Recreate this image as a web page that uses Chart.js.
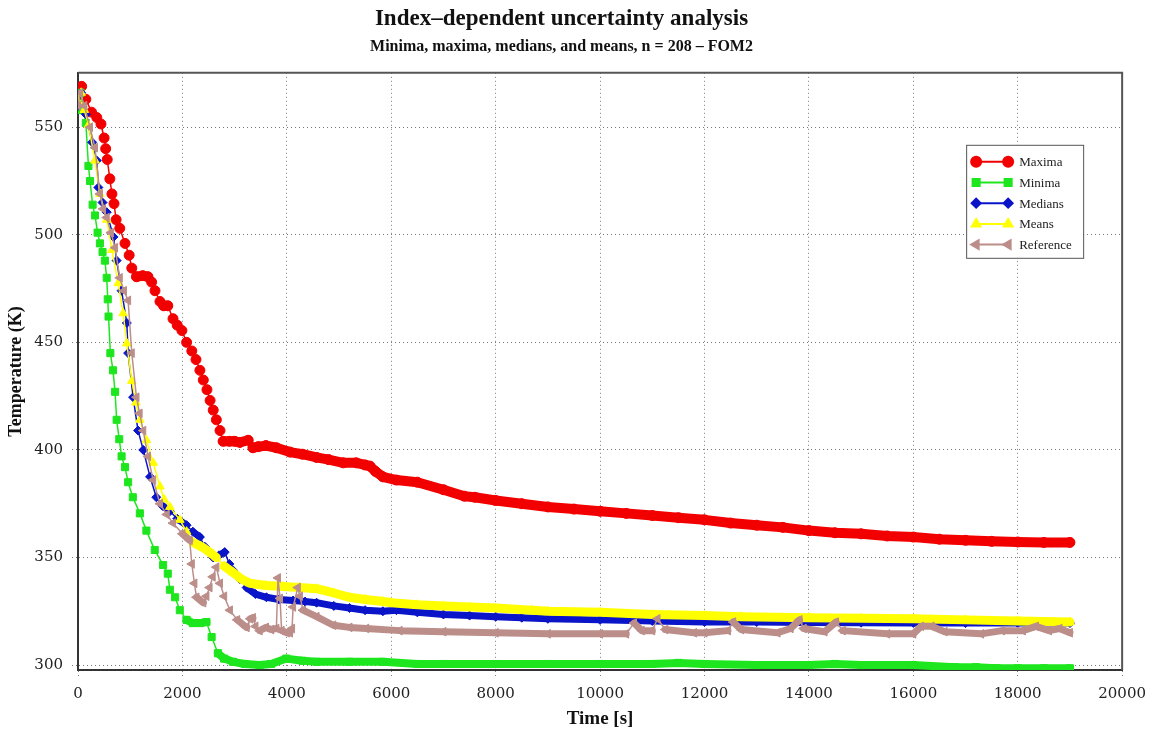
<!DOCTYPE html>
<html>
<head>
<meta charset="utf-8">
<title>Index-dependent uncertainty analysis</title>
<script src="https://cdn.jsdelivr.net/npm/chart.js@4.4.1/dist/chart.umd.min.js"></script>
<style>
  html, body { margin: 0; padding: 0; background: #fff; }
  #chart { display: block; }
</style>
</head>
<body>
<canvas id="chart" width="1155" height="735"></canvas>
<script>
// series names and axis ticks
const seriesNames = ['Maxima', 'Minima', 'Medians', 'Means', 'Reference'];
const xTicks = [0, 2000, 4000, 6000, 8000, 10000, 12000, 14000, 16000, 18000, 20000];
const yTicks = [300, 350, 400, 450, 500, 550];

// Maxima
const maxTime = [0, 70, 150, 260, 360, 440, 500, 530, 560, 610, 650, 690, 730, 800, 900, 980, 1030, 1120, 1240, 1340,
  1410, 1475, 1570, 1640, 1720, 1820, 1900, 1990, 2080, 2180, 2260, 2335, 2400, 2470, 2530, 2590, 2650, 2720, 2780, 2900,
  3000, 3100, 3260, 3350, 3450, 3600, 3800, 4060, 4300, 4570, 4800, 5080, 5330, 5500, 5590, 5700, 5840, 6100, 6500, 7000,
  7400, 7600, 8000, 8500, 9000, 9500, 10000, 10500, 11000, 11500, 12000, 12500, 13000, 13500, 14000, 14500, 15000, 15500,
  16000, 16500, 17000, 17500, 18000, 18500, 19000];
const maxTemp = [562, 569, 563, 557, 554.5, 551.5, 545, 540, 535, 526, 519, 514.5, 507, 503, 496, 490.5, 484.5, 480.5, 481, 480.5,
  478, 474, 469, 467, 467, 461, 458, 455.5, 450, 446, 442, 437, 432.5, 428, 423, 418.5, 414, 409, 404, 404,
  404, 403.5, 404.5, 401, 401.5, 402, 401, 399, 398, 396.5, 395.5, 394, 394, 393, 392.5, 390, 387.5, 386, 385, 381.5,
  378.5, 378, 376.5, 375, 373.5, 372.5, 371.5, 370.5, 369.5, 368.5, 367.5, 366, 365, 364, 362.5, 361.5, 361, 360,
  359.5, 358.5, 358, 357.5, 357.2, 357, 357];

// Minima
const minTime = [0, 50, 100, 150, 200, 230, 280, 325, 375, 420, 470, 515, 550, 570, 585, 620, 670, 710, 740, 790,
  835, 900, 960, 1050, 1185, 1310, 1470, 1630, 1720, 1760, 1860, 1950, 2080, 2200, 2340, 2460, 2560, 2680, 2800, 2970,
  3200, 3480, 3700, 3990, 4300, 4570, 5200, 5840, 6500, 7000, 8000, 9000, 10000, 11000, 11500, 12000, 13000, 14000, 14500, 15000,
  16000, 16800, 17200, 17600, 18000, 18500, 19000];
const minTemp = [558, 566, 558, 552, 532, 525, 514, 509, 501, 496, 492, 488, 480, 470, 462, 445, 437, 427, 414, 405,
  397, 392, 385, 378, 370.5, 362.5, 353.5, 346.5, 342.5, 335, 331.5, 325.5, 321, 319.5, 319.5, 320, 313, 305.5, 303, 301.5,
  300.5, 300, 300.5, 303, 302, 301.5, 301.5, 301.5, 300.5, 300.5, 300.5, 300.5, 300.5, 300.5, 301, 300.5, 300, 300, 300.5, 300,
  300, 299, 299, 298.5, 298.5, 298.5, 298.5];

// Medians
const medTime = [0, 60, 150, 270, 360, 390, 470, 550, 680, 740, 835, 935, 960, 1055, 1150, 1250, 1380, 1500, 1620, 1760,
  1900, 2080, 2200, 2335, 2430, 2590, 2700, 2810, 2900, 2970, 3100, 3230, 3400, 3610, 3850, 4120, 4350, 4570, 4900, 5200,
  5500, 5840, 6100, 6500, 7000, 7500, 8000, 8500, 9000, 10000, 11000, 12000, 13000, 14000, 15000, 16000, 17000, 18000, 19000];
const medTemp = [560, 566, 556, 543, 534.5, 522, 515, 510.5, 499, 488, 474, 459, 445, 424.5, 409, 400, 387.5, 378, 374, 371.5,
  368, 365, 362, 359.5, 355, 350, 351, 352.5, 347, 344, 340, 336, 333, 331.5, 330.5, 330, 329.5, 329, 327.5, 326.5,
  325.5, 325, 325.5, 324.5, 323.5, 323, 322.5, 322, 321.5, 321, 320.5, 320, 320, 319.8, 319.7, 319.6, 319.5, 319.5, 319.5];

// Means
const meanTime = [0, 60, 120, 200, 325, 420, 550, 650, 770, 865, 935, 1030, 1110, 1185, 1310, 1440, 1570, 1650, 1760, 1950,
  2080, 2210, 2400, 2520, 2650, 2800, 2970, 3130, 3290, 3600, 3930, 4250, 4570, 4900, 5200, 5500, 5840, 6000, 6500, 7000,
  7500, 8000, 8700, 9000, 10000, 11000, 12000, 12700, 14000, 15000, 16000, 17000, 18000, 19000];
const meanTemp = [562, 566, 558, 551, 534.5, 519, 507, 493, 477.5, 463.5, 449.5, 432, 422, 414, 404.5, 394, 383, 377, 373.5, 367.5,
  362, 357, 354.5, 352.5, 350, 346, 343, 340, 338, 337, 336.5, 336, 335.5, 333.5, 331.5, 330.5, 329.5, 329, 328, 327.5,
  327, 326.5, 325.5, 325, 324.5, 323.5, 323, 322.5, 322, 321.7, 321.5, 321, 320.5, 320];

// Reference
const refTime = [0, 40, 120, 230, 325, 420, 480, 550, 630, 710, 800, 880, 960, 1030, 1120, 1180, 1250, 1340, 1440, 1570,
  1700, 1820, 2000, 2140, 2180, 2230, 2270, 2400, 2460, 2520, 2580, 2650, 2720, 2800, 2910, 3050, 3230, 3300, 3350, 3400,
  3480, 3600, 3700, 3800, 3830, 3870, 3900, 4000, 4060, 4100, 4120, 4210, 4250, 4310, 4570, 4890, 5200, 5520, 6160, 7000,
  8000, 9000, 10000, 10500, 10650, 10800, 11000, 11100, 11250, 11800, 12000, 12450, 12550, 12700, 13400, 13650, 13820, 13900, 14300, 14520,
  14650, 15500, 16000, 16150, 16350, 16600, 17300, 17700, 18100, 18350, 18600, 18800, 19000];
const refTemp = [560, 566, 560, 550, 540.5, 519, 512, 508, 501, 494, 480, 474, 469.5, 445, 424.5, 417, 409, 397, 386, 375,
  370, 366, 361, 358, 347, 338, 331.5, 329, 332, 336, 341, 345.5, 338, 332, 325.5, 321, 317.5, 321.5, 322, 318,
  316, 317.5, 316.5, 317, 340.5, 331, 316, 315, 315, 317, 327, 336, 332, 325.5, 322.5, 318.5, 317.5, 317, 316, 315.5,
  315, 314.5, 314.5, 314.5, 319.5, 316, 316, 321.5, 316.5, 315, 315, 316, 320, 316.5, 315, 317, 321, 317, 315.5, 320,
  316, 314.5, 314.5, 318, 318, 315.5, 314.5, 316, 316, 318, 316, 317, 315];

const seriesColors = ['#f20000', '#1ee61e', '#0a14c8', '#ffff00', '#bc8e8a'];
const seriesStyles = [
  { pointStyle: 'circle', radius: 5, rotation: 0, band: 10 },
  { pointStyle: 'rect', radius: 5, rotation: 0, band: 8 },
  { pointStyle: 'rectRot', radius: 4.5, rotation: 0, band: 7 },
  { pointStyle: 'triangle', radius: 5, rotation: 0, band: 9 },
  { pointStyle: 'triangle', radius: 5, rotation: -90, band: 7 }
];
const seriesData = [
  [maxTime, maxTemp], [minTime, minTemp], [medTime, medTemp], [meanTime, meanTemp], [refTime, refTemp]
];

function toPoints(ts, vs) {
  return ts.map((t, i) => ({ x: t, y: vs[i] }));
}

// steep stretches keep a thin joining line, flat ones merge the markers into a band
function segmentWidth(band) {
  return ctx => {
    const dx = Math.abs(ctx.p1.x - ctx.p0.x);
    const dy = Math.abs(ctx.p1.y - ctx.p0.y);
    return dy < dx ? band : 1.5;
  };
}

const datasets = seriesNames.map((name, i) => {
  const st = seriesStyles[i];
  return {
    label: name,
    data: toPoints(seriesData[i][0], seriesData[i][1]),
    borderColor: seriesColors[i],
    backgroundColor: seriesColors[i],
    borderWidth: 1.5,
    borderJoinStyle: 'round',
    borderCapStyle: 'round',
    pointStyle: st.pointStyle,
    pointRotation: st.rotation,
    pointRadius: st.radius,
    pointBorderWidth: 1,
    pointBackgroundColor: seriesColors[i],
    pointBorderColor: seriesColors[i],
    tension: 0,
    order: seriesNames.length - 1 - i,
    segment: { borderWidth: segmentWidth(st.band) }
  };
});

// outer frame of the plot area
const frame = {
  id: 'frame',
  beforeDatasetsDraw(chart) {
    const { ctx, chartArea: a } = chart;
    ctx.save();
    ctx.strokeStyle = '#555';
    ctx.lineWidth = 2;
    ctx.beginPath();
    ctx.moveTo(a.left, a.top);
    ctx.lineTo(a.right, a.top);
    ctx.lineTo(a.right, a.bottom);
    ctx.stroke();
    ctx.restore();
  }
};

function markerAt(ctx, st, color, x, y) {
  ctx.fillStyle = color;
  ctx.strokeStyle = color;
  Chart.helpers.drawPoint(ctx, {
    pointStyle: st.pointStyle, rotation: st.rotation, radius: st.radius, borderWidth: 1
  }, x, y);
}

// boxed legend inside the plot, line with a marker on each end
const legendBox = {
  id: 'legendBox',
  afterDatasetsDraw(chart) {
    const { ctx, chartArea: a } = chart;
    const left = a.right - 156, top = a.top + 72, w = 117, h = 113;
    ctx.save();
    ctx.fillStyle = '#fff';
    ctx.fillRect(left, top, w, h);
    ctx.strokeStyle = '#555';
    ctx.lineWidth = 1;
    ctx.strokeRect(left + 0.5, top + 0.5, w, h);
    ctx.font = '13px "Liberation Serif"';
    ctx.textBaseline = 'middle';
    seriesNames.forEach((name, i) => {
      const y = top + 17 + i * 20.7;
      const x0 = left + 10, x1 = left + 42;
      ctx.strokeStyle = seriesColors[i];
      ctx.lineWidth = 2;
      ctx.beginPath();
      ctx.moveTo(x0, y);
      ctx.lineTo(x1, y);
      ctx.stroke();
      markerAt(ctx, seriesStyles[i], seriesColors[i], x0, y);
      markerAt(ctx, seriesStyles[i], seriesColors[i], x1, y);
      ctx.fillStyle = '#222';
      ctx.fillText(name, left + 53, y + 1);
    });
    ctx.restore();
  }
};

const tickFont = { family: 'DejaVu Serif', size: 15 };
const gridStyle = {
  color: '#7a7a7a',
  lineWidth: 1,
  tickLength: 6,
  tickColor: '#7a7a7a',
  tickBorderDash: [1, 3]
};

new Chart(document.getElementById('chart'), {
  type: 'line',
  data: { datasets },
  options: {
    responsive: false,
    animation: false,
    devicePixelRatio: 1,
    layout: { padding: { left: 0, right: 32, top: 0, bottom: 0 } },
    plugins: {
      legend: { display: false },
      tooltip: { enabled: false },
      title: {
        display: true,
        text: 'Index\u2013dependent uncertainty analysis',
        color: '#111',
        font: { family: 'Liberation Serif', size: 23, weight: 'bold' },
        padding: { top: 5, bottom: 5 }
      },
      subtitle: {
        display: true,
        text: 'Minima, maxima, medians, and means, n = 208 \u2013 FOM2',
        color: '#111',
        font: { family: 'Liberation Serif', size: 16, weight: 'bold' },
        padding: { top: 0, bottom: 16 }
      }
    },
    scales: {
      x: {
        type: 'linear',
        min: 0,
        max: 20000,
        afterBuildTicks: s => { s.ticks = xTicks.map(v => ({ value: v })); },
        afterFit: s => { s.height = 65; },
        grid: gridStyle,
        border: { display: true, color: '#333', width: 2, dash: [1, 3] },
        ticks: { padding: 9, color: '#222', font: tickFont, maxRotation: 0, autoSkip: false, callback: v => String(v) },
        title: {
          display: true,
          text: 'Time [s]',
          color: '#111',
          font: { family: 'Liberation Serif', size: 19, weight: 'bold' },
          padding: { top: 0, bottom: 5 }
        }
      },
      y: {
        type: 'linear',
        min: 297.7,
        max: 575.3,
        afterBuildTicks: s => { s.ticks = yTicks.map(v => ({ value: v })); },
        afterFit: s => { s.width = 78; },
        grid: gridStyle,
        border: { display: true, color: '#333', width: 2, dash: [1, 3] },
        ticks: { padding: 9, color: '#222', font: tickFont, autoSkip: false, callback: v => String(v) },
        title: {
          display: true,
          text: 'Temperature (K)',
          color: '#111',
          font: { family: 'Liberation Serif', size: 18, weight: 'bold' },
          padding: { top: 6, bottom: 0 }
        }
      }
    }
  },
  plugins: [frame, legendBox]
});
</script>
</body>
</html>
